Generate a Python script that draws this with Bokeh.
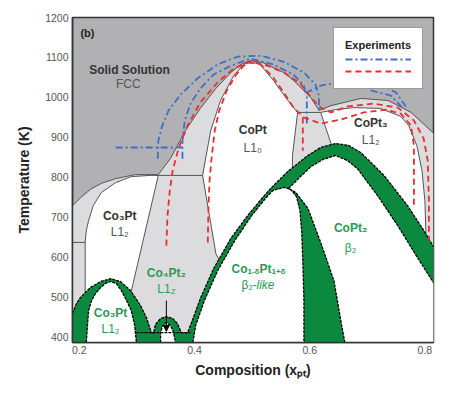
from bokeh.plotting import figure
from bokeh.models import Legend, LegendItem, FixedTicker, Arrow, NormalHead
from bokeh.core.properties import value
from bokeh.embed import file_html
from bokeh.resources import INLINE

FONT = "Liberation Sans"
X_LO, X_HI = 0.188, 0.815
T_LO, T_HI = 385, 1200

x_ticks = [0.2, 0.4, 0.6, 0.8]
T_ticks = [400, 500, 600, 700, 800, 900, 1000, 1100, 1200]

# FCC solid solution / ordered-phase boundary
fcc_x = [0.188, 0.202, 0.219, 0.238, 0.263, 0.297, 0.337, 0.358, 0.384, 0.410, 0.437, 0.463, 0.480, 0.497,
         0.518, 0.537, 0.555, 0.572, 0.602, 0.616, 0.637, 0.689, 0.736, 0.776, 0.815]
fcc_T = [728, 748, 769, 784, 796, 806, 806, 846, 916, 972, 1022, 1062, 1082, 1092,
         1087, 1074, 1062, 1042, 999, 967, 979, 997, 992, 962, 910]

# single-phase ordered regions (white)
co3pt_x = [0.210, 0.210, 0.212, 0.216, 0.224, 0.238, 0.263, 0.290, 0.323, 0.337, 0.290, 0.290]
co3pt_T = [385, 636, 666, 691, 728, 761, 786, 801, 804, 804, 513, 385]
copt_x = [0.414, 0.428, 0.445, 0.468, 0.485, 0.497, 0.511, 0.537, 0.562, 0.579, 0.570, 0.570, 0.445, 0.437]
copt_T = [804, 916, 992, 1054, 1082, 1092, 1087, 1042, 992, 962, 854, 741, 586, 608]
copt3_x = [0.637, 0.619, 0.645, 0.677, 0.723, 0.758, 0.772, 0.786, 0.795, 0.800, 0.802, 0.802, 0.663]
copt3_T = [884, 962, 969, 974, 972, 952, 929, 879, 816, 741, 653, 591, 591]

# extra phase-boundary segments
seg_left_x, seg_left_T = [0.188, 0.210], [636, 636]
seg_trap_x, seg_trap_T = [0.337, 0.414], [804, 804]
seg_quad_x, seg_quad_T = [0.579, 0.619], [962, 962]

# low-temperature two-phase envelope (green)
green_x = [0.188, 0.195, 0.202, 0.219, 0.237, 0.254, 0.271, 0.289, 0.306, 0.317, 0.325, 0.329, 0.332, 0.341,
           0.351, 0.362, 0.370, 0.377, 0.388, 0.393, 0.410, 0.433, 0.463, 0.492, 0.518, 0.532, 0.562, 0.597,
           0.619, 0.645, 0.668, 0.689, 0.729, 0.770, 0.798, 0.815]
green_T = [458, 483, 498, 523, 538, 545, 538, 515, 478, 445, 410, 410, 430, 445,
           450, 445, 433, 410, 410, 428, 495, 570, 646, 703, 748, 771, 814, 854,
           874, 884, 879, 861, 804, 728, 666, 625]

# low-temperature ordered phases (white domes)
d1_x = [0.212, 0.214, 0.216, 0.221, 0.228, 0.237, 0.245, 0.254, 0.264, 0.273, 0.282, 0.290, 0.296, 0.299]
d1_T = [385, 428, 465, 490, 508, 523, 533, 538, 533, 515, 490, 465, 428, 385]
d2_x = [0.341, 0.341, 0.344, 0.351, 0.358, 0.363, 0.367]
d2_T = [385, 410, 425, 435, 428, 413, 385]
d3_x = [0.397, 0.402, 0.417, 0.440, 0.470, 0.499, 0.523, 0.536, 0.555, 0.567, 0.577, 0.583, 0.586, 0.588, 0.590, 0.590]
d3_T = [385, 428, 490, 565, 641, 703, 746, 766, 774, 769, 751, 716, 666, 591, 490, 385]
d4_x = [0.661, 0.654, 0.642, 0.619, 0.597, 0.576, 0.563, 0.584, 0.602, 0.623, 0.645, 0.666, 0.683, 0.718,
        0.753, 0.788, 0.815]
d4_T = [385, 440, 540, 636, 721, 761, 771, 801, 826, 844, 854, 841, 821, 753, 678, 596, 535]
tie_x, tie_T = [0.299, 0.393], [410, 410]

# experiments
b1_x = [0.336, 0.337, 0.344, 0.355, 0.376, 0.405, 0.440, 0.475, 0.515, 0.555, 0.590, 0.610, 0.616, 0.616]
b1_T = [846, 891, 929, 967, 1007, 1047, 1082, 1102, 1104, 1089, 1062, 1032, 1004, 962]
b2_x = [0.379, 0.379, 0.383, 0.393, 0.410, 0.433, 0.463, 0.497, 0.537, 0.572, 0.590, 0.593]
b2_T = [846, 891, 942, 984, 1022, 1057, 1079, 1097, 1082, 1057, 1029, 1004]
bh_x, bh_T = [0.263, 0.379], [874, 874]
b3_x = [0.595, 0.595, 0.619, 0.654, 0.689, 0.723, 0.750, 0.767]
b3_T = [934, 1012, 1029, 1039, 1042, 1032, 1012, 977]
b4_x = [0.706, 0.741, 0.762]
b4_T = [1017, 1004, 972]
r1_x = [0.351, 0.353, 0.357, 0.362, 0.372, 0.388, 0.410, 0.440, 0.468, 0.497, 0.527, 0.555, 0.584, 0.602,
        0.619, 0.637, 0.666, 0.711, 0.753, 0.781, 0.798, 0.805, 0.807, 0.807]
r1_T = [628, 703, 766, 816, 871, 929, 987, 1037, 1072, 1089, 1079, 1062, 1034, 999,
        974, 962, 977, 984, 974, 942, 896, 841, 741, 641]
r2_x = [0.423, 0.424, 0.426, 0.430, 0.435, 0.443, 0.456, 0.471, 0.485, 0.497, 0.515, 0.537, 0.555, 0.572,
        0.590, 0.619, 0.654, 0.694, 0.732, 0.758, 0.776, 0.781, 0.781]
r2_T = [636, 716, 791, 854, 916, 967, 1017, 1054, 1079, 1087, 1082, 1049, 1012, 974,
        949, 934, 944, 962, 969, 959, 929, 879, 721]
r3_x, r3_T = [0.588, 0.588], [949, 866]

arrow_x, arrow_T0, arrow_T1 = 0.351, 490, 413

DARK_BG = "#b1b1b3"
LIGHT = "#dcdcde"
GREEN = "#0b8a3f"
GTEXT = "#2a9a55"
EDGE = "#555555"
BLUE = "#3f6fc6"
RED = "#ee2b2e"

p = figure(width=448, height=388, x_range=(X_LO, X_HI), y_range=(T_LO, T_HI),
           output_backend="svg", toolbar_location=None,
           min_border_left=72, min_border_right=15, min_border_top=17, min_border_bottom=46)
p.background_fill_color = DARK_BG
p.xgrid.visible = False
p.ygrid.visible = False
p.outline_line_color = "#333333"
p.outline_line_width = 1.5

p.xaxis.ticker = FixedTicker(ticks=x_ticks)
p.yaxis.ticker = FixedTicker(ticks=T_ticks)
p.xaxis.axis_label = "Composition (x\u209a\u209c)"
p.yaxis.axis_label = "Temperature (K)"
for ax in (p.xaxis[0], p.yaxis[0]):
    ax.major_tick_line_color = None
    ax.minor_tick_line_color = None
    ax.major_tick_out = 0
    ax.major_tick_in = 0
    ax.minor_tick_out = 0
    ax.major_label_text_font = FONT
    ax.major_label_text_font_size = "10.5px"
    ax.major_label_text_color = "#555555"
    ax.axis_label_text_font = FONT
    ax.axis_label_text_font_style = "bold"
    ax.axis_label_text_font_size = "14px"
    ax.axis_label_text_color = "#222222"
    ax.axis_line_color = "#333333"
    ax.axis_line_width = 1.5
p.xaxis.major_label_standoff = 3
p.yaxis.major_label_standoff = 4
p.xaxis.axis_label_standoff = 5
p.yaxis.axis_label_standoff = 10

# light-gray two-phase area under the FCC boundary
p.patch(fcc_x + [X_HI, X_LO], fcc_T + [T_LO, T_LO], fill_color=LIGHT, line_color=None)
p.line(fcc_x, fcc_T, line_color=EDGE, line_width=1)

for xs, ts in ((co3pt_x, co3pt_T), (copt_x, copt_T), (copt3_x, copt3_T)):
    p.patch(xs, ts, fill_color="white", line_color=EDGE, line_width=1)
for xs, ts in ((seg_left_x, seg_left_T), (seg_trap_x, seg_trap_T), (seg_quad_x, seg_quad_T)):
    p.line(xs, ts, line_color=EDGE, line_width=1)

# green two-phase envelope
p.patch([X_LO] + green_x + [X_HI], [T_LO] + green_T + [T_LO], fill_color=GREEN, line_color=None)
p.patch(d1_x, d1_T, fill_color="white", line_color=None)
p.patch(d2_x, d2_T, fill_color="white", line_color=None)
p.patch(d3_x, d3_T, fill_color="white", line_color=None)
p.patch(d4_x + [X_HI], d4_T + [T_LO], fill_color="white", line_color=None)
for xs, ts in ((green_x, green_T), (d1_x, d1_T), (d2_x, d2_T), (d3_x, d3_T), (d4_x, d4_T), (tie_x, tie_T)):
    p.line(xs, ts, line_color="black", line_width=1.3, line_dash="3 1")

# experiments
BDASH = "7 3 2 3"
RDASH = "6 4"
rb1 = p.line(b1_x, b1_T, line_color=BLUE, line_width=1.8, line_dash=BDASH)
for xs, ts in ((b2_x, b2_T), (bh_x, bh_T), (b3_x, b3_T), (b4_x, b4_T)):
    p.line(xs, ts, line_color=BLUE, line_width=1.8, line_dash=BDASH)
rr1 = p.line(r1_x, r1_T, line_color=RED, line_width=1.8, line_dash=RDASH)
for xs, ts in ((r2_x, r2_T), (r3_x, r3_T)):
    p.line(xs, ts, line_color=RED, line_width=1.8, line_dash=RDASH)

p.add_layout(Arrow(end=NormalHead(size=6, fill_color="black", line_color="black"),
                   x_start=arrow_x, y_start=arrow_T0, x_end=arrow_x, y_end=arrow_T1,
                   line_color="black", line_width=1))


def label(x, y, txt, color, size="12px", style="bold", xo=0, yo=0, align="center"):
    p.text(x=[x], y=[y], text=[txt], text_color=color, text_font=value(FONT),
           text_font_size=size, text_font_style=style, text_align=align,
           text_baseline="middle", x_offset=xo, y_offset=yo)


label(0.214, 1160, "(b)", "#222222", size="11px")
label(0.287, 1069, "Solid Solution", "#333333")
label(0.285, 1032, "FCC", "#555555", style="normal")
label(0.501, 919, "CoPt", "#333333")
label(0.501, 874, "L1\u2080", "#555555", style="normal")
label(0.706, 936, "CoPt\u2083", "#333333")
label(0.706, 894, "L1\u2082", "#555555", style="normal")
label(0.270, 703, "Co\u2083Pt", "#333333")
label(0.270, 663, "L1\u2082", "#555555", style="normal")
label(0.254, 460, "Co\u2083Pt", GTEXT)
label(0.254, 420, "L1\u2082", GTEXT, style="normal")
label(0.351, 560, "Co\u2084Pt\u2082", GTEXT)
label(0.351, 520, "L1", GTEXT, style="normal", xo=-9, align="left")
label(0.351, 520, "Z", GTEXT, size="8px", style="normal", xo=4.5, yo=3, align="left")
label(0.511, 570, "Co", GTEXT, xo=-27, align="left")
label(0.511, 570, "1-\u03b4", GTEXT, size="8px", xo=-11, yo=3, align="left")
label(0.511, 570, "Pt", GTEXT, xo=1, align="left")
label(0.511, 570, "1+\u03b4", GTEXT, size="8px", xo=13, yo=3, align="left")
label(0.511, 530, "\u03b2\u2082", GTEXT, style="normal", xo=-17, align="left")
label(0.511, 530, "-like", GTEXT, style="italic", xo=-6, align="left")
label(0.671, 671, "CoPt\u2082", GTEXT)
label(0.671, 623, "\u03b2\u2082", GTEXT, style="normal")

legend = Legend(items=[LegendItem(label=" ", renderers=[rb1]), LegendItem(label=" ", renderers=[rr1])],
                title="Experiments", location="top_right")
legend.title_text_font = FONT
legend.title_text_font_style = "bold"
legend.title_text_font_size = "11px"
legend.title_text_color = "#222222"
legend.title_standoff = 2
legend.label_text_font_size = "1px"
legend.label_width = 0
legend.label_standoff = 0
legend.label_height = 12
legend.glyph_height = 12
legend.glyph_width = 66
legend.spacing = 0
legend.padding = 11
legend.margin = 10
legend.border_line_color = "#333333"
legend.border_line_width = 1.5
legend.background_fill_color = "white"
legend.background_fill_alpha = 1
p.add_layout(legend)

open("out.html", "w").write(file_html(p, INLINE))
